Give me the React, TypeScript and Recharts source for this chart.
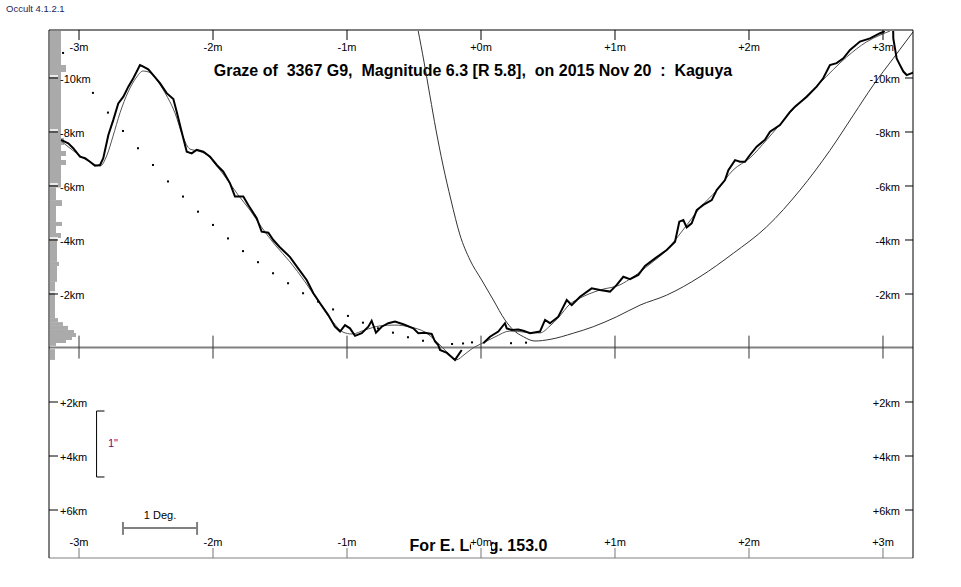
import React from 'react';
import { ComposedChart, Line, Scatter, XAxis, YAxis, ReferenceLine, ReferenceArea } from 'recharts';

const X_MIN = -3.224;
const X_MAX = 3.224;
const Y_MIN = -7.796;
const Y_MAX = 11.759;

const minuteTicks = [-3, -2, -1, 0, 1, 2, 3];
const kmTicks = [10, 8, 6, 4, 2, -2, -4, -6];

// observed limb profile [minutes, km above zero line], null = gap in the profile
const profile: [number, number | null][] = [
  [-3.134, 7.69], [-3.08, 7.56], [-3.043, 7.38], [-2.993, 7.07], [-2.955, 7.01], [-2.918, 6.88],
  [-2.881, 6.73], [-2.843, 6.76], [-2.819, 7.01], [-2.781, 7.87], [-2.744, 8.43], [-2.707, 9.04],
  [-2.669, 9.29], [-2.632, 9.66], [-2.595, 9.97], [-2.569, 10.22], [-2.545, 10.46], [-2.52, 10.4],
  [-2.483, 10.3], [-2.446, 10.09], [-2.396, 9.79], [-2.346, 9.42], [-2.296, 9.2], [-2.271, 8.73],
  [-2.234, 7.99], [-2.196, 7.25], [-2.159, 7.19], [-2.122, 7.32], [-2.072, 7.25], [-2.022, 7.07],
  [-1.972, 6.76], [-1.923, 6.51], [-1.873, 6.08], [-1.836, 5.59], [-1.774, 5.59], [-1.737, 5.28],
  [-1.674, 4.79], [-1.637, 4.29], [-1.587, 4.25], [-1.55, 3.98], [-1.505, 3.73], [-1.425, 3.35],
  [-1.366, 2.94], [-1.301, 2.5], [-1.251, 2.01], [-1.201, 1.64], [-1.14, 1.2], [-1.09, 0.77],
  [-1.052, 0.59], [-1.015, 0.83], [-0.978, 0.71], [-0.94, 0.43], [-0.89, 0.53], [-0.841, 0.77],
  [-0.816, 0.99], [-0.784, 0.55], [-0.741, 0.77], [-0.692, 0.9], [-0.642, 0.96], [-0.58, 0.86],
  [-0.505, 0.71], [-0.468, 0.53], [-0.418, 0.55], [-0.368, 0.5], [-0.343, 0.22], [-0.319, 0.09],
  [-0.306, -0.09], [-0.254, -0.2], [-0.194, -0.46], [-0.144, -0.09], [-0.12, null],
  [0.017, 0.16], [0.067, 0.4], [0.129, 0.59], [0.179, 0.9], [0.192, 0.71], [0.229, 0.65],
  [0.278, 0.67], [0.316, 0.62], [0.366, 0.53], [0.44, 0.59], [0.478, 1.02], [0.515, 0.9],
  [0.577, 1.14], [0.64, 1.76], [0.677, 1.57], [0.739, 1.88], [0.826, 2.19], [0.888, 2.13],
  [0.963, 2.07], [1.013, 2.32], [1.062, 2.62], [1.112, 2.53], [1.174, 2.69], [1.224, 3.02],
  [1.299, 3.3], [1.386, 3.61], [1.448, 3.92], [1.48, 4.66], [1.51, 4.72], [1.535, 4.45],
  [1.572, 4.6], [1.61, 5.09], [1.659, 5.28], [1.722, 5.46], [1.759, 5.83], [1.821, 6.2],
  [1.846, 6.57], [1.896, 6.94], [1.933, 6.88], [1.97, 6.88], [2.007, 7.13], [2.057, 7.44],
  [2.119, 7.69], [2.157, 7.99], [2.231, 8.24], [2.306, 8.73], [2.343, 8.92], [2.431, 9.29],
  [2.505, 9.66], [2.554, 9.97], [2.604, 10.46], [2.654, 10.53], [2.704, 10.71], [2.754, 11.02],
  [2.828, 11.33], [2.903, 11.45], [2.978, 11.64], [3.007, 11.7], [3.015, 12.1], [3.075, 12.1],
  [3.077, 11.45], [3.102, 10.71], [3.127, 10.46], [3.152, 10.22], [3.177, 10.09], [3.215, 10.16],
  [3.231, 10.2],
];

// smoothed mean limb
const smoothProfile: [number, number][] = [
  [-3.134, 7.65], [-3.03, 7.24], [-2.918, 6.87], [-2.843, 6.72], [-2.791, 7.13], [-2.746, 7.83],
  [-2.694, 8.69], [-2.634, 9.46], [-2.575, 9.98], [-2.522, 10.24], [-2.478, 10.2], [-2.425, 9.94],
  [-2.358, 9.43], [-2.284, 8.69], [-2.224, 7.8], [-2.172, 7.35], [-2.112, 7.28], [-2.045, 7.13],
  [-1.978, 6.76], [-1.903, 6.28], [-1.813, 5.65], [-1.724, 5.09], [-1.634, 4.43], [-1.537, 3.8],
  [-1.425, 3.17], [-1.313, 2.43], [-1.201, 1.61], [-1.104, 0.94], [-1.03, 0.57], [-0.963, 0.5],
  [-0.866, 0.65], [-0.754, 0.8], [-0.642, 0.83], [-0.53, 0.76], [-0.418, 0.57], [-0.328, 0.2],
  [-0.254, -0.17], [-0.187, -0.46], [-0.119, -0.24], [-0.06, -0.02], [0.015, 0.17], [0.104, 0.39],
  [0.216, 0.61], [0.328, 0.57], [0.44, 0.54], [0.515, 0.8], [0.575, 1.09], [0.664, 1.61],
  [0.739, 1.83], [0.888, 2.13], [1.037, 2.32], [1.134, 2.61], [1.261, 3.09], [1.386, 3.61],
  [1.507, 4.35], [1.634, 5.17], [1.761, 5.83], [1.881, 6.57], [2.007, 7.02], [2.132, 7.69],
  [2.306, 8.69], [2.53, 9.8], [2.729, 10.76], [2.878, 11.32], [2.978, 11.57], [3.052, 11.72],
];

// limb of the moon seen from the other side
const limbCurve: [number, number][] = [
  [-0.485, 12.13], [-0.47, 11.76], [-0.425, 10.57], [-0.381, 9.32], [-0.336, 8.06], [-0.284, 6.76],
  [-0.224, 5.46], [-0.157, 4.17], [-0.082, 3.24], [0.005, 2.5], [0.092, 1.76], [0.179, 1.02],
  [0.241, 0.65], [0.316, 0.4], [0.403, 0.24], [0.515, 0.3], [0.689, 0.53], [0.838, 0.77],
  [1.013, 1.14], [1.187, 1.57], [1.386, 1.94], [1.634, 2.62], [1.883, 3.49], [2.132, 4.47],
  [2.381, 5.83], [2.604, 7.3], [2.778, 8.6], [2.928, 9.72], [3.077, 10.71], [3.226, 11.7],
];

// star path dots
const starPath: [number, number][] = [
  [-3.119, 10.91], [-2.896, 9.43], [-2.784, 8.7], [-2.672, 8.02], [-2.56, 7.38], [-2.448, 6.76],
  [-2.336, 6.15], [-2.224, 5.59], [-2.112, 5.03], [-2.0, 4.54], [-1.888, 4.04], [-1.776, 3.57],
  [-1.664, 3.16], [-1.552, 2.75], [-1.44, 2.38], [-1.328, 2.01], [-1.216, 1.7], [-1.104, 1.41],
  [-0.993, 1.17], [-0.881, 0.92], [-0.769, 0.71], [-0.657, 0.55], [-0.545, 0.38], [-0.433, 0.25],
  [-0.216, 0.13], [-0.134, 0.15], [-0.067, 0.19], [0.224, 0.16], [0.336, 0.18],
];

// histogram of limb heights [km top, km bottom, count]
const histBins: [number, number, number][] = [
  [11.76, 10.46, 11], [10.46, 10.2, 16], [10.2, 7.76, 11], [7.76, 7.5, 14], [7.5, 7.28, 11],
  [7.28, 7.09, 16], [7.09, 6.94, 11], [6.94, 6.76, 16], [6.76, 5.93, 11], [5.93, 5.46, 6],
  [5.46, 5.24, 12], [5.24, 4.65, 6], [4.65, 4.5, 12], [4.5, 4.24, 6], [4.24, 4.06, 11],
  [4.06, 3.17, 7], [3.17, 3.02, 9], [3.02, 2.43, 7], [2.43, 1.09, 5], [1.09, 0.94, 8],
  [0.94, 0.8, 13], [0.8, 0.65, 18], [0.65, 0.54, 24], [0.54, 0.39, 26], [0.39, 0.28, 22],
  [0.28, 0.17, 16], [0.17, 0.06, 6], [-0.06, -0.46, 5],
];

const HIST_UNIT = 0.00746; // minutes per count
const FONT = '"Liberation Sans", Arial, sans-serif';

const toPts = (arr: [number, number | null][]) => arr.map(([t, h]) => ({ t, h }));

const fmtMin = (v: number) => (v === 0 ? '+0m' : v > 0 ? `+${v}m` : `${v}m`);
const fmtKm = (v: number) => (v > 0 ? `-${v}km` : `+${-v}km`);

const TopTick = (p: any) => (
  <g>
    <line x1={p.x} x2={p.x} y1={p.y} y2={p.y + 10} stroke="#000" />
    <text x={p.x} y={p.y + 21} textAnchor="middle" fontSize={11} fontFamily={FONT} fill="#000">
      {fmtMin(p.payload.value)}
    </text>
  </g>
);

// bottom labels sit on a white patch, as in Occult's output
const BottomTick = (p: any) => (
  <g>
    <rect x={p.x - 10} y={p.y - 23} width={20} height={17} fill="#fff" />
    <line x1={p.x} x2={p.x} y1={p.y - 10} y2={p.y} stroke="#777" />
    <text x={p.x} y={p.y - 12} textAnchor="middle" fontSize={11} fontFamily={FONT} fill="#000">
      {fmtMin(p.payload.value)}
    </text>
  </g>
);

const LeftTick = (p: any) => (
  <g>
    <line x1={p.x + 1} x2={p.x + 9} y1={p.y - 1.5} y2={p.y - 1.5} stroke="#fff" strokeWidth={1.5} />
    <line x1={p.x} x2={p.x + 9} y1={p.y + 0.5} y2={p.y + 0.5} stroke="#000" />
    <text x={p.x + 11} y={p.y + 5.5} fontSize={11} fontFamily={FONT} fill="#000">
      {fmtKm(p.payload.value)}
    </text>
  </g>
);

const RightTick = (p: any) => (
  <g>
    <line x1={p.x - 8} x2={p.x} y1={p.y + 0.5} y2={p.y + 0.5} stroke="#000" />
    <text x={p.x - 13} y={p.y + 5.5} textAnchor="end" fontSize={11} fontFamily={FONT} fill="#000">
      {fmtKm(p.payload.value)}
    </text>
  </g>
);

const Dot = (p: any) => <rect x={p.cx - 1} y={p.cy - 1} width={2} height={2} fill="#000" />;

export default function App() {
  return (
    <div style={{ position: 'absolute', left: 0, top: 0, width: 961, height: 587, background: '#fff', fontFamily: FONT }}>
      <div style={{ position: 'absolute', left: 6, top: 3, fontSize: 9.5, color: '#1c1c5c' }}>Occult 4.1.2.1</div>
      <div style={{ position: 'absolute', left: 0, top: 62, width: 946, textAlign: 'center', fontSize: 16, fontWeight: 'bold', whiteSpace: 'pre', lineHeight: '18px' }}>
        {'Graze of  3367 G9,  Magnitude 6.3 [R 5.8],  on 2015 Nov 20  :  Kaguya'}
      </div>
      <div style={{ position: 'absolute', left: 0, top: 537, width: 957, textAlign: 'center', fontSize: 16, fontWeight: 'bold', lineHeight: '18px' }}>
        For E. Long. 153.0
      </div>
      <div style={{ position: 'absolute', left: 108, top: 437, fontSize: 11, color: '#800080' }}>1"</div>
      <div style={{ position: 'absolute', left: 123, top: 509, width: 74, textAlign: 'center', fontSize: 11 }}>1 Deg.</div>

      <div style={{ position: 'absolute', left: 0, top: 0 }}>
        <ComposedChart width={961} height={587} margin={{ top: 10, right: 28, bottom: 9, left: 29 }}>
          <XAxis type="number" dataKey="t" domain={[X_MIN, X_MAX]} allowDataOverflow ticks={minuteTicks}
            interval={0} height={20} tickSize={0} tickMargin={0} axisLine={false} tickLine={false} tick={BottomTick} />
          <XAxis xAxisId="top" orientation="top" type="number" dataKey="t" domain={[X_MIN, X_MAX]} allowDataOverflow
            ticks={minuteTicks} interval={0} height={20} tickSize={0} tickMargin={0} axisLine={false} tickLine={false} tick={TopTick} />
          <YAxis type="number" domain={[Y_MIN, Y_MAX]} allowDataOverflow ticks={kmTicks} interval={0} width={20}
            tickSize={0} tickMargin={0} axisLine={false} tickLine={false} tick={LeftTick} />
          <YAxis yAxisId="right" orientation="right" type="number" domain={[Y_MIN, Y_MAX]} allowDataOverflow ticks={kmTicks}
            interval={0} width={20} tickSize={0} tickMargin={0} axisLine={false} tickLine={false} tick={RightTick} />

          {histBins.map(([top, bottom, n], i) => (
            <ReferenceArea key={`hb${i}`} x1={X_MIN + HIST_UNIT} x2={X_MIN + HIST_UNIT * (n + 1)} y1={bottom} y2={top}
              fill="#aaaaaa" fillOpacity={1} stroke="none" ifOverflow="visible" />
          ))}

          <ReferenceLine y={0} stroke="#808080" strokeWidth={2} ifOverflow="visible" />
          {minuteTicks.map((m) => (
            <ReferenceLine key={`zt${m}`} segment={[{ x: m, y: 0.44 }, { x: m, y: -0.41 }]} stroke="#333" ifOverflow="visible" />
          ))}

          <ReferenceLine segment={[{ x: -2.81, y: -2.352 }, { x: -2.869, y: -2.352 }]} stroke="#000" ifOverflow="visible" />
          <ReferenceLine segment={[{ x: -2.869, y: -2.352 }, { x: -2.869, y: -4.796 }]} stroke="#000" ifOverflow="visible" />
          <ReferenceLine segment={[{ x: -2.869, y: -4.796 }, { x: -2.81, y: -4.796 }]} stroke="#000" ifOverflow="visible" />
          <ReferenceLine segment={[{ x: -2.672, y: -6.685 }, { x: -2.119, y: -6.685 }]} stroke="#808080" strokeWidth={2} ifOverflow="visible" />
          <ReferenceLine segment={[{ x: -2.672, y: -6.46 }, { x: -2.672, y: -6.94 }]} stroke="#808080" strokeWidth={2} ifOverflow="visible" />
          <ReferenceLine segment={[{ x: -2.119, y: -6.46 }, { x: -2.119, y: -6.94 }]} stroke="#808080" strokeWidth={2} ifOverflow="visible" />

          <Line data={toPts(limbCurve)} dataKey="h" type="monotone" dot={false} stroke="#333" strokeWidth={1} isAnimationActive={false} />
          <Line data={toPts(smoothProfile)} dataKey="h" type="monotone" dot={false} stroke="#555" strokeWidth={1} isAnimationActive={false} />
          <Line data={toPts(profile)} dataKey="h" type="linear" dot={false} stroke="#000" strokeWidth={2} isAnimationActive={false} />
          <Scatter data={toPts(starPath)} dataKey="h" shape={Dot} isAnimationActive={false} />

          <ReferenceLine y={Y_MAX} stroke="#808080" strokeWidth={2} ifOverflow="visible" />
          <ReferenceLine y={Y_MIN} stroke="#808080" ifOverflow="visible" />
          <ReferenceLine x={X_MIN} stroke="#000" ifOverflow="visible" />
          <ReferenceLine x={X_MAX} stroke="#000" ifOverflow="visible" />
        </ComposedChart>
      </div>
    </div>
  );
}
